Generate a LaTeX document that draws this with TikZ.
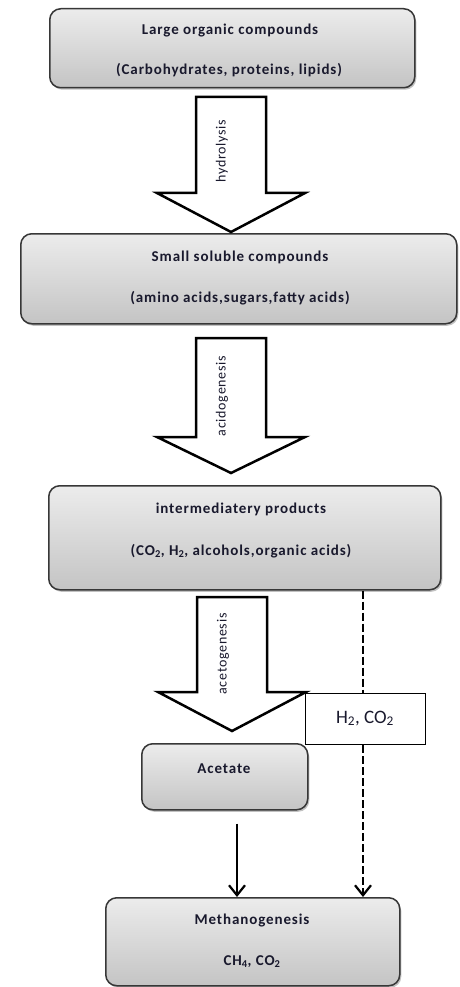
\documentclass[tikz,border=0pt]{standalone}
\usepackage{fontspec}
\setmainfont{Carlito}
\newfontfamily\boxfont[LetterSpace=6]{Carlito}
\newfontfamily\lblfont[LetterSpace=5]{Carlito}
\usetikzlibrary{arrows.meta,shadows}
\definecolor{boxtop}{RGB}{236,236,236}
\definecolor{boxbot}{RGB}{196,196,196}
\definecolor{boxline}{RGB}{55,55,55}
\definecolor{txt}{RGB}{25,25,45}
\tikzset{
  stagebox/.style={draw=boxline, line width=1.5pt, rounded corners=11pt,
    top color=boxtop, bottom color=boxbot, anchor=north west, inner sep=0pt,
    drop shadow={shadow xshift=1.5pt, shadow yshift=-2pt, opacity=0.4, fill=black!60}},
  boxtext/.style={font=\boxfont\bfseries\fontsize{15}{17}\selectfont, text=txt, inner sep=0pt, anchor=base},
  gasbox/.style={draw=black, line width=1.2pt, fill=white, anchor=north west, inner sep=0pt},
  gastext/.style={font=\fontsize{19}{21}\selectfont, text=txt, inner sep=0pt, anchor=base},
  blockarrow/.style={draw=black, line width=2.5pt, fill=white, line join=miter},
  arrowlabel/.style={font=\lblfont\fontsize{14}{16}\selectfont, text=txt, rotate=90, inner sep=0pt},
  tipv/.style={-{Straight Barb[length=10pt,width=16pt,line width=2.2pt]}},
  flowline/.style={draw=black, line width=2.5pt, tipv},
  dashline/.style={draw=black, line width=2.5pt, dash pattern=on 8pt off 3pt}
}
\newcommand{\bigarrow}[4]{%
  \draw[blockarrow] (#1-35,#2) -- (#1+35,#2) -- (#1+35,#3) -- (#1+74,#3) -- (#1,#4) -- (#1-74,#3) -- (#1-35,#3) -- cycle;}
\begin{document}
\begin{tikzpicture}[x=1pt,y=-1pt]
\fill[white] (0,0) rectangle (459,987);
\useasboundingbox (0,0) rectangle (459,987);
% boxes
\node[stagebox, minimum width=365pt, minimum height=79pt] (b1) at (49,8) {};
\node[stagebox, minimum width=436pt, minimum height=90pt] (b2) at (20,233) {};
\node[stagebox, minimum width=392pt, minimum height=104pt] (b3) at (48,485) {};
\node[stagebox, minimum width=166pt, minimum height=66pt] (acet) at (141,743) {};
\node[stagebox, minimum width=294pt, minimum height=88pt] (meth) at (105,897) {};
\node[gasbox, minimum width=120pt, minimum height=51pt] (gas) at (305,693) {};
% block arrows
\bigarrow{231}{97}{193}{232}
\bigarrow{231}{338}{437}{473}
\bigarrow{232}{597}{692}{731}
% texts
\node[boxtext] (t1a) at (230,35) {Large organic  compounds};
\node[boxtext] (t1b) at (229,75) {(Carbohydrates, proteins, lipids)};
\node[boxtext] (t2a) at (240,261) {Small soluble  compounds};
\node[boxtext] (t2b) at (240,302) {(amino  acids,sugars,fatty acids)};
\node[boxtext] (t3a) at (241,513) {intermediatery products};
\node[boxtext] (t3b) at (241,555) {(CO\textsubscript{2}, H\textsubscript{2}, alcohols,organic  acids)};
\node[boxtext] (t4) at (224,773) {Acetate};
\node[boxtext] (t5a) at (252,924) {Methanogenesis};
\node[boxtext] (t5b) at (252,965) {CH\textsubscript{4}, CO\textsubscript{2}};
\node[gastext] (tg) at (365,723) {H\textsubscript{2}, CO\textsubscript{2}};
\node[arrowlabel] (l1) at (222,151) {hydrolysis};
\node[arrowlabel] (l2) at (222,396) {acidogenesis};
\node[arrowlabel] (l3) at (223,654) {acetogenesis};
% connectors
\coordinate (sx) at (237,0);
\coordinate (dx) at (363,0);
\draw[flowline] ([yshift=-13pt]acet.south -| sx) -- (meth.north -| sx);
\draw[dashline] (b3.south -| dx) -- (gas.north -| dx);
\draw[dashline, tipv] (gas.south -| dx) -- (meth.north -| dx);
\end{tikzpicture}
\end{document}
